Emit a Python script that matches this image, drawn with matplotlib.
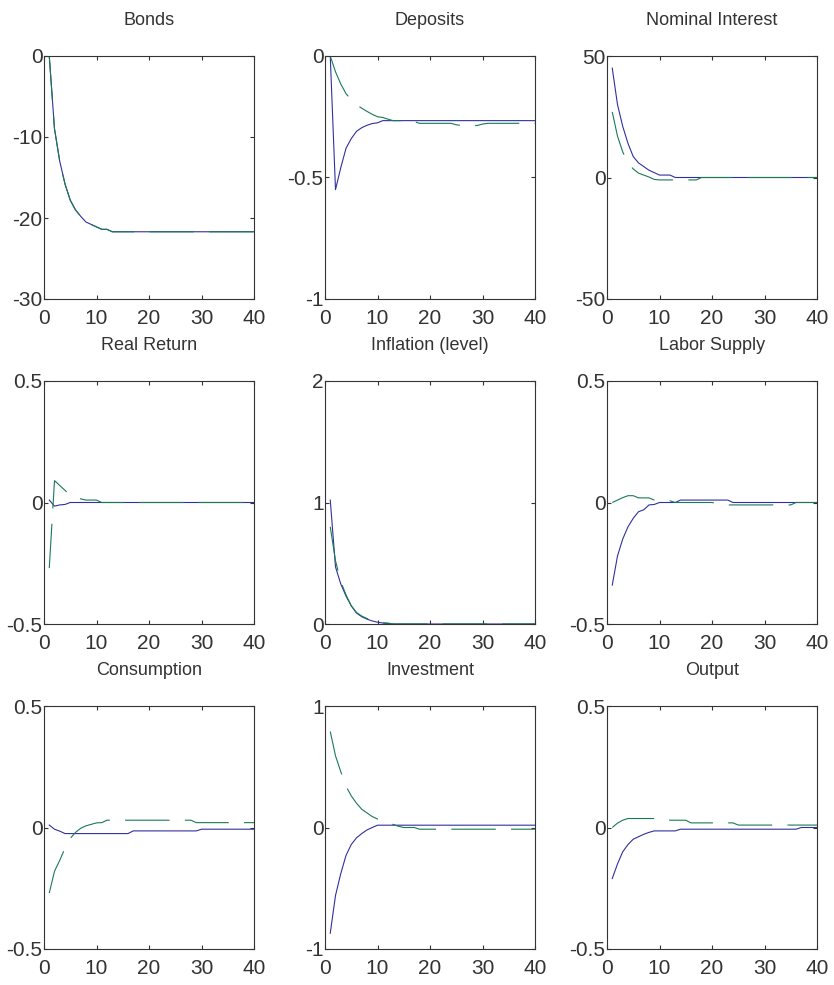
import matplotlib
matplotlib.use("Agg")
import matplotlib.pyplot as plt

# === Data: impulse responses, periods 1..40 ===
periods = list(range(1, 41))

titles = ["Bonds", "Deposits", "Nominal Interest",
          "Real Return", "Inflation (level)", "Labor Supply",
          "Consumption", "Investment", "Output"]

bonds_blue = [0, -9.0, -13.0, -15.8, -17.8, -19.0, -19.8, -20.5, -20.8, -21.1,
              -21.4, -21.4, -21.7, -21.7, -21.7, -21.7, -21.7, -21.7, -21.7, -21.7,
              -21.7, -21.7, -21.7, -21.7, -21.7, -21.7, -21.7, -21.7, -21.7, -21.7,
              -21.7, -21.7, -21.7, -21.7, -21.7, -21.7, -21.7, -21.7, -21.7, -21.7]
bonds_green = [0, -9.0, -13.0, -15.8, -17.8, -19.0, -19.8, -20.5, -20.8, -21.1,
               -21.4, -21.4, -21.7, -21.7, -21.7, -21.7, -21.7, -21.7, -21.7, -21.7,
               -21.7, -21.7, -21.7, -21.7, -21.7, -21.7, -21.7, -21.7, -21.7, -21.7,
               -21.7, -21.7, -21.7, -21.7, -21.7, -21.7, -21.7, -21.7, -21.7, -21.7]

deposits_blue = [0, -0.55, -0.46, -0.38, -0.34, -0.31, -0.295, -0.285, -0.278, -0.275,
                 -0.266, -0.266, -0.266, -0.266, -0.266, -0.266, -0.266, -0.266, -0.266, -0.266,
                 -0.266, -0.266, -0.266, -0.266, -0.266, -0.266, -0.266, -0.266, -0.266, -0.266,
                 -0.266, -0.266, -0.266, -0.266, -0.266, -0.266, -0.266, -0.266, -0.266, -0.266]
deposits_green = [0, -0.065, -0.115, -0.155, -0.18, -0.2, -0.215, -0.228, -0.24, -0.25,
                  -0.253, -0.26, -0.266, -0.266, -0.266, -0.266, -0.27, -0.277, -0.277, -0.277,
                  -0.277, -0.277, -0.277, -0.277, -0.283, -0.286, -0.286, -0.286, -0.286, -0.28,
                  -0.277, -0.277, -0.277, -0.277, -0.277, -0.277, -0.277, -0.277, -0.277, -0.277]

nominal_blue = [45, 30, 21, 14, 8.6, 6, 4.5, 3, 2, 1,
                1, 1, 0, 0, 0, 0, 0, 0, 0, 0,
                0, 0, 0, 0, 0, 0, 0, 0, 0, 0,
                0, 0, 0, 0, 0, 0, 0, 0, 0, 0]
nominal_green = [27, 17, 10.5, 6, 3.5, 1.8, 1, 0.2, -0.8, -1,
                 -1, -1, -1, -1, -1, -1, -1, 0, 0, 0,
                 0, 0, 0, 0, 0, 0, 0, 0, 0, 0,
                 0, 0, 0, 0, 0, 0, 0, 0, 0, 0]

real_blue = [0.01, -0.015, -0.01, -0.008, 0, 0, 0, 0, 0, 0,
             0, 0, 0, 0, 0, 0, 0, 0, 0, 0,
             0, 0, 0, 0, 0, 0, 0, 0, 0, 0,
             0, 0, 0, 0, 0, 0, 0, 0, 0, 0]
real_green = [-0.27, 0.09, 0.07, 0.05, 0.03, 0.02, 0.015, 0.01, 0.01, 0.01,
              0, 0, 0, 0, 0, 0, 0, 0, 0, 0,
              0, 0, 0, 0, 0, 0, 0, 0, 0, 0,
              0, 0, 0, 0, 0, 0, 0, 0, 0, 0]

infl_blue = [1.02, 0.47, 0.33, 0.23, 0.15, 0.09, 0.06, 0.04, 0.025, 0.015,
             0.008, 0.003, 0, 0, 0, 0, 0, 0, 0, 0,
             0, 0, 0, 0, 0, 0, 0, 0, 0, 0,
             0, 0, 0, 0, 0, 0, 0, 0, 0, 0]
infl_green = [0.8, 0.52, 0.35, 0.24, 0.15, 0.095, 0.065, 0.045, 0.03, 0.02,
              0.01, 0.008, 0, 0, 0, 0, 0, 0, 0, 0,
              0, 0, 0, 0, 0, 0, 0, 0, 0, 0,
              0, 0, 0, 0, 0, 0, 0, 0, 0, 0]

labor_blue = [-0.34, -0.22, -0.15, -0.1, -0.065, -0.038, -0.03, -0.01, -0.008, 0,
              0, 0, 0, 0.01, 0.01, 0.01, 0.01, 0.01, 0.01, 0.01,
              0.01, 0.01, 0.01, 0, 0, 0, 0, 0, 0, 0,
              0, 0, 0, 0, 0, 0, 0, 0, 0, 0]
labor_green = [0, 0.01, 0.02, 0.028, 0.028, 0.019, 0.019, 0.019, 0.01, 0.008,
               0.008, 0.007, 0, 0, 0, 0, 0, 0, 0, 0,
               -0.005, -0.01, -0.01, -0.01, -0.01, -0.01, -0.01, -0.01, -0.01, -0.01,
               -0.01, -0.01, -0.01, -0.01, -0.01, 0, 0, 0, 0, 0]

cons_blue = [0.01, -0.007, -0.015, -0.025, -0.025, -0.025, -0.025, -0.025, -0.025, -0.025,
             -0.025, -0.025, -0.025, -0.025, -0.025, -0.025, -0.014, -0.014, -0.014, -0.014,
             -0.014, -0.014, -0.014, -0.014, -0.014, -0.014, -0.014, -0.014, -0.014, -0.007,
             -0.007, -0.007, -0.007, -0.007, -0.007, -0.007, -0.007, -0.007, -0.007, -0.007]
cons_green = [-0.27, -0.18, -0.135, -0.085, -0.045, -0.02, -0.003, 0.007, 0.013, 0.019,
              0.02, 0.03, 0.03, 0.03, 0.03, 0.03, 0.03, 0.03, 0.03, 0.03,
              0.03, 0.03, 0.03, 0.03, 0.03, 0.03, 0.03, 0.03, 0.02, 0.02,
              0.02, 0.02, 0.02, 0.02, 0.02, 0.02, 0.02, 0.02, 0.02, 0.02]

inv_blue = [-0.87, -0.56, -0.38, -0.23, -0.14, -0.085, -0.05, -0.02, 0.0, 0.019,
            0.019, 0.019, 0.019, 0.019, 0.019, 0.019, 0.019, 0.019, 0.019, 0.019,
            0.019, 0.019, 0.019, 0.019, 0.019, 0.019, 0.019, 0.019, 0.019, 0.019,
            0.019, 0.019, 0.019, 0.019, 0.019, 0.019, 0.019, 0.019, 0.019, 0.019]
inv_green = [0.79, 0.59, 0.46, 0.34, 0.26, 0.2, 0.15, 0.12, 0.09, 0.07,
             0.05, 0.035, 0.025, 0.01, 0, 0, 0, -0.014, -0.014, -0.014,
             -0.014, -0.014, -0.014, -0.014, -0.014, -0.014, -0.014, -0.014, -0.014, -0.014,
             -0.014, -0.014, -0.014, -0.014, -0.014, -0.014, -0.014, -0.014, -0.014, -0.014]

out_blue = [-0.21, -0.15, -0.1, -0.07, -0.048, -0.038, -0.028, -0.02, -0.014, -0.014,
            -0.014, -0.014, -0.014, -0.007, -0.007, -0.007, -0.007, -0.007, -0.007, -0.007,
            -0.007, -0.007, -0.007, -0.007, -0.007, -0.007, -0.007, -0.007, -0.007, -0.007,
            -0.007, -0.007, -0.007, -0.007, -0.007, -0.007, 0, 0, 0, 0]
out_green = [0, 0.018, 0.03, 0.037, 0.037, 0.037, 0.037, 0.037, 0.037, 0.037,
             0.037, 0.03, 0.03, 0.03, 0.03, 0.019, 0.019, 0.019, 0.019, 0.019,
             0.019, 0.019, 0.019, 0.019, 0.01, 0.01, 0.01, 0.01, 0.01, 0.01,
             0.01, 0.01, 0.01, 0.01, 0.01, 0.01, 0.01, 0.01, 0.01, 0.01]

blue_series = [bonds_blue, deposits_blue, nominal_blue, real_blue, infl_blue,
               labor_blue, cons_blue, inv_blue, out_blue]
green_series = [bonds_green, deposits_green, nominal_green, real_green, infl_green,
                labor_green, cons_green, inv_green, out_green]

y_limits = [(-30, 0), (-1, 0), (-50, 50), (-0.5, 0.5), (0, 2),
            (-0.5, 0.5), (-0.5, 0.5), (-1, 1), (-0.5, 0.5)]
y_ticks = [[-30, -20, -10, 0], [-1, -0.5, 0], [-50, 0, 50], [-0.5, 0, 0.5], [0, 1, 2],
           [-0.5, 0, 0.5], [-0.5, 0, 0.5], [-1, 0, 1], [-0.5, 0, 0.5]]
x_ticks = [0, 10, 20, 30, 40]

# === Style ===
plt.rcParams['font.family'] = ['Liberation Sans', 'DejaVu Sans']
plt.rcParams['lines.scale_dashes'] = False
text_color = '#333333'
blue = '#3030a0'
green = '#1a7a55'

W, H = 834, 985
fig = plt.figure(figsize=(W / 100, H / 100), dpi=100)

col_left = [44, 325, 607]
row_top = [56, 381, 706]
ax_w, ax_h = 210, 243


def fmt(v):
    if float(v).is_integer():
        return str(int(v))
    return str(v)


for i in range(9):
    r, c = divmod(i, 3)
    left = col_left[c] / W
    bottom = (H - row_top[r] - ax_h) / H
    ax = fig.add_axes([left, bottom, ax_w / W, ax_h / H])

    ax.plot(periods, blue_series[i], color=blue, lw=0.8)
    ax.plot(periods, green_series[i], color=green, lw=0.8, dashes=(32, 11))

    ax.set_xlim(0, 40)
    ax.set_ylim(*y_limits[i])
    ax.set_xticks(x_ticks)
    ax.set_xticklabels([fmt(t) for t in x_ticks])
    ax.set_yticks(y_ticks[i])
    ax.set_yticklabels([fmt(t) for t in y_ticks[i]])

    ax.tick_params(direction='in', length=3, width=0.8, top=True, right=True,
                   labelsize=15, colors=text_color)
    ax.tick_params(axis='x', pad=7)
    ax.tick_params(axis='y', pad=1)
    for s in ax.spines.values():
        s.set_color(text_color)
        s.set_linewidth(0.8)
    ax.set_title(titles[i], fontsize=13, color=text_color, pad=22)

fig.savefig("out.png", dpi=100)
